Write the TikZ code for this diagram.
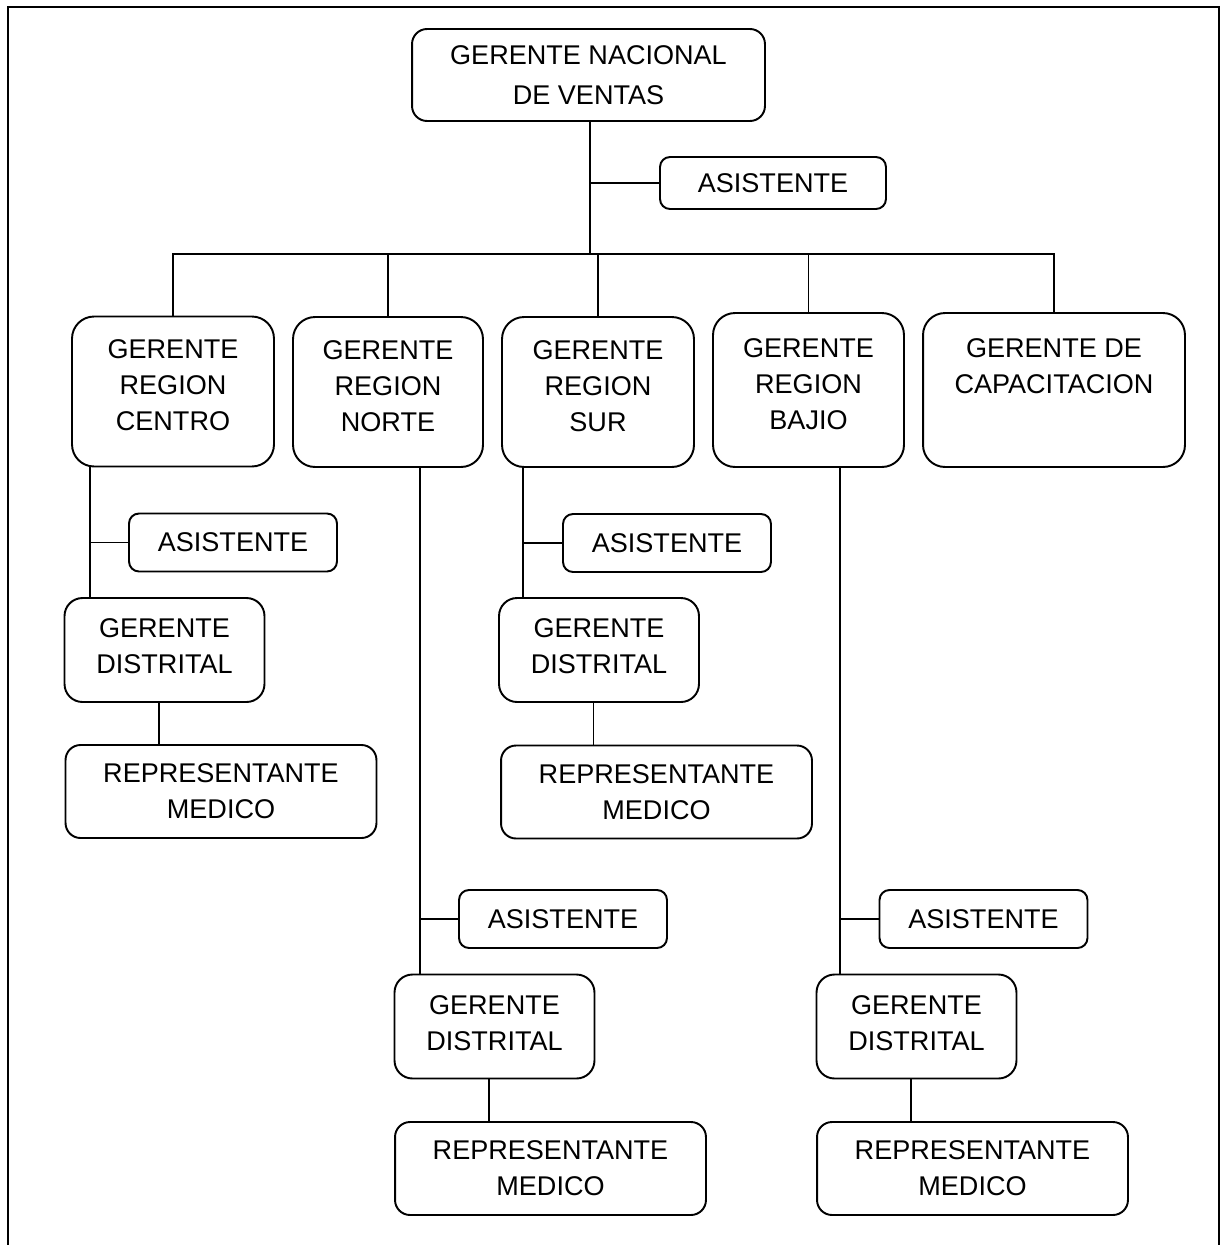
\documentclass[tikz,border=0pt]{standalone}
\usepackage{fontspec}
\setmainfont{Liberation Sans}
\usepackage{tikz}
\usetikzlibrary{positioning,calc}

\tikzset{
    cargo/.style={draw, line width=1.1pt, align=center, inner sep=0pt,
        font=\fontsize{15.4pt}{20.5pt}\selectfont},
    jefe/.style={cargo, rounded corners=0.3cm, minimum width=7.06cm, minimum height=1.84cm},
    asis/.style={cargo, rounded corners=0.2cm, minimum width=4.16cm, minimum height=1.16cm},
    region/.style={cargo, rounded corners=0.44cm, minimum height=3cm,
        execute at end node={\rule[-0.24cm]{0pt}{0pt}}},
    distrital/.style={cargo, rounded corners=0.36cm, minimum width=4cm, minimum height=2.08cm,
        execute at end node={\rule[-0.14cm]{0pt}{0pt}}},
    repre/.style={cargo, rounded corners=0.3cm, minimum width=6.22cm, minimum height=1.86cm}
}

\begin{document}
\begin{tikzpicture}[x=0.02cm, y=-0.02cm, line width=1.1pt]
        \useasboundingbox (0,0) rectangle (1220,1245);
        % marco
        \draw (8,1245) -- (8,7) -- (1219,7) -- (1219,1245);

        \node[jefe] (gnv) at (588.5,75) {GERENTE NACIONAL\\[2pt]DE VENTAS};
        \node[asis, minimum width=4.52cm, minimum height=1.04cm] (asis0) at (773,183) {ASISTENTE};

        \node[region, minimum width=4.04cm] (centro) at (173,391.5) {GERENTE\\REGION\\CENTRO};
        \node[region, minimum width=3.8cm] (norte) at (388,392) {GERENTE\\REGION\\NORTE};
        \node[region, minimum width=3.84cm] (sur) at (598,392) {GERENTE\\REGION\\SUR};
        \node[region, minimum width=3.82cm, minimum height=3.08cm] (bajio) at (808.5,390) {GERENTE\\REGION\\BAJIO};
        \node[region, minimum width=5.24cm, minimum height=3.08cm] (capac) at (1054,390) {GERENTE DE\\CAPACITACION\\ \strut};

        \node[asis] (acentro) at (233,542.5) {ASISTENTE};
        \node[distrital] (dcentro) at (164.5,650) {GERENTE\\DISTRITAL};
        \node[repre] (rcentro) at (221,791.5) {REPRESENTANTE\\MEDICO};

        \node[asis] (asur) at (667,543) {ASISTENTE};
        \node[distrital] (dsur) at (599,650) {GERENTE\\DISTRITAL};
        \node[repre] (rsur) at (656.5,792) {REPRESENTANTE\\MEDICO};

        \node[asis] (anorte) at (563,919) {ASISTENTE};
        \node[distrital] (dnorte) at (494.5,1026.5) {GERENTE\\DISTRITAL};
        \node[repre] (rnorte) at (550.5,1168.5) {REPRESENTANTE\\MEDICO};

        \node[asis] (abajio) at (983.5,919) {ASISTENTE};
        \node[distrital] (dbajio) at (916.5,1026.5) {GERENTE\\DISTRITAL};
        \node[repre] (rbajio) at (972.5,1168.5) {REPRESENTANTE\\MEDICO};

        % lineas de mando
        \coordinate (bus) at (590,254);
        \draw (gnv.south -| bus) -- (bus);
        \draw (asis0.west) -- (asis0.west -| bus);
        \draw (centro.north) |- (bus) -| (capac.north);
        \foreach \n in {norte,sur,bajio} {
            \draw (\n.north) -- (\n.north |- bus);
        }

        \coordinate (vcentro) at (90,0);
        \coordinate (vnorte) at (420,0);
        \coordinate (vsur) at (523,0);
        \coordinate (vbajio) at (840,0);
        \foreach \n in {centro,norte,sur,bajio} {
            \draw (\n.south -| v\n) -- (d\n.north -| v\n);
            \draw (a\n.west) -- (a\n.west -| v\n);
            \draw ([xshift=-0.11cm]d\n.south) -- ([xshift=-0.11cm]d\n.south |- r\n.north);
        }
    \end{tikzpicture}
\end{document}
